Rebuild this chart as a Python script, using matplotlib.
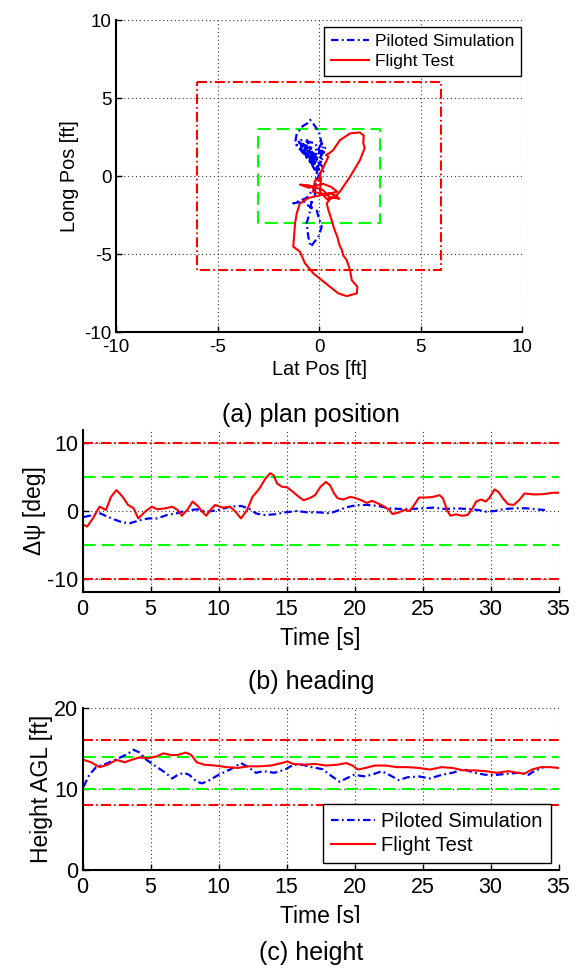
import numpy as np
import matplotlib
matplotlib.use('Agg')
import matplotlib.pyplot as plt
from matplotlib.patches import Rectangle

plt.rcParams['font.family'] = ['Liberation Sans', 'DejaVu Sans']
plt.rcParams['axes.unicode_minus'] = False

# plan position traces [ft]
sim_lat = [-0.2, -0.2, 0.0, 0.3, 0.1, -0.5, -1.0, -0.6, -0.2, -0.4, -1.1, -0.3, 0.0, 0.13, 0.25,
           -0.3, -0.8, -0.1, 0.2, -0.2, -0.9, -0.1, -0.7, 0.1, -0.8, -0.2, -0.6, 0.0, -0.5, 0.2,
           -0.9, -0.3, -1.18, -1.1, -0.8, -0.55, -0.44, -0.25, 0.0, 0.13, 0.3,
           0.0, -0.1, -0.2, -0.6, -1.27, -0.77, -0.36, -0.35, -0.45, -0.61, -0.53, -0.41, -0.03,
           0.13, -0.03, -0.15]
sim_long = [-1.3, -0.68, 0.1, 0.38, 0.7, 1.6, 2.2, 1.2, 0.4, 1.9, 2.0, 0.9, 1.8, 2.1, 1.5,
            1.4, 1.8, 0.5, 1.2, 2.1, 2.3, 0.6, 2.0, 0.9, 1.6, 1.1, 2.3, 0.4, 1.3, 1.6,
            1.9, 0.7, 2.1, 2.7, 3.2, 3.4, 3.6, 3.3, 2.8, 2.1, 1.8,
            1.0, 0.3, -0.68, -1.4, -1.75, -1.64, -2.07, -1.5, -2.3, -3.03, -3.89, -4.53, -3.89,
            -3.25, -2.61, -2.0]

ft_lat = [0.0, 0.1, 0.3, 0.46, 0.35, 0.55, 0.7, 1.03, 1.53, 2.0, 2.2, 2.18, 2.25, 2.02, 1.53,
          1.03, 0.8, 1.0, 0.5, 0.2, -0.5, -0.94, -0.5, 0.2, 0.6, 0.9, 0.3, -0.3, -0.2, 0.1,
          0.05, 0.4, 0.9, 0.5, -0.5, -0.94, -1.1, -1.18, -1.27, -0.94, -0.69, -0.28, 0.13, 0.54,
          0.95, 1.36, 1.86, 1.89, 1.61, 1.53, 1.36, 1.2, 1.12, 1.0, 0.9, 0.75, 0.62, 0.46, 0.38,
          0.6]
ft_long = [-0.3, 0.3, 0.8, 1.24, 1.35, 1.5, 1.67, 2.3, 2.73, 2.8, 2.6, 2.1, 1.8, 1.03, -0.04,
           -1.0, -1.33, -1.45, -1.35, -0.9, -0.6, -0.55, -0.75, -0.5, -0.7, -1.0, -1.2, -1.0,
           -0.3, -0.1, -1.0, -1.5, -1.3, -1.1, -1.4, -1.75, -2.4, -3.03, -4.53, -4.85, -5.6,
           -6.24, -6.67, -7.1, -7.52, -7.7, -7.52, -7.1, -6.67, -6.03, -5.38, -5.1, -4.74, -4.4,
           -3.89, -3.4, -2.82, -2.18, -1.75, -1.4]

# heading [deg]
t_hdg_sim = [0.08, 0.76, 1.3, 1.85, 2.4, 2.95, 3.5, 4.15, 4.85, 5.5, 6.2, 6.9, 7.6, 8.4, 9.2,
             10.0, 10.85, 11.65, 12.2, 12.75, 13.3, 14.1, 14.9, 15.75, 16.55, 17.4, 18.2, 18.75,
             19.4, 20.1, 20.9, 21.75, 22.55, 23.4, 24.2, 25.0, 25.8, 26.65, 27.45, 28.3, 29.1,
             29.65, 30.3, 31.0, 31.8, 32.65, 33.3, 34.0]
hdg_sim = [-0.9, -0.6, -0.35, -0.85, -1.3, -1.7, -1.8, -1.4, -1.1, -1.1, -0.6, -0.35, 0.05, 0.25,
           -0.1, 0.15, 0.64, 0.75, 0.4, -0.35, -0.6, -0.5, -0.2, 0.0, -0.2, -0.2, -0.35, 0.05,
           0.55, 0.85, 0.9, 0.75, 0.4, 0.3, 0.3, 0.4, 0.5, 0.3, 0.4, 0.3, 0.15, -0.1, 0.0, 0.3,
           0.4, 0.4, 0.25, 0.15]
t_hdg_ft = [0.08, 0.35, 0.76, 1.25, 1.72, 2.1, 2.5, 2.95, 3.35, 3.76, 4.1, 4.6, 5.1, 5.5, 6.1,
            6.6, 7.0, 7.3, 7.7, 8.1, 8.5, 8.8, 9.1, 9.4, 9.75, 10.3, 10.85, 11.25, 11.65, 12.1,
            12.5, 13.0, 13.45, 13.8, 14.05, 14.3, 14.65, 15.05, 15.5, 15.9, 16.25, 16.7, 17.1,
            17.5, 17.9, 18.2, 18.5, 18.75, 19.15, 19.7, 20.1, 20.5, 20.9, 21.3, 21.75, 22.15,
            22.55, 22.8, 23.2, 23.65, 24.05, 24.3, 24.75, 25.3, 25.8, 26.25, 26.5, 26.8, 27.05,
            27.45, 27.9, 28.3, 28.6, 28.95, 29.3, 29.65, 29.9, 30.3, 30.6, 30.9, 31.3, 31.7,
            32.1, 32.5, 33.2, 33.9, 34.55, 35.0]
hdg_ft = [-2.06, -2.3, -1.1, 0.64, 0.15, 2.1, 3.1, 2.1, 0.9, 0.4, -1.1, -0.1, 0.64, 0.25, 0.4,
          0.64, 0.15, -0.7, 0.15, 1.4, 0.7, -0.1, -0.7, 0.15, 0.9, 0.5, 0.64, -0.1, -1.1, 0.15,
          2.1, 3.3, 4.8, 5.6, 5.3, 4.1, 3.6, 3.5, 2.8, 2.1, 1.6, 1.9, 2.35, 3.6, 4.3, 3.8, 2.6,
          1.9, 1.7, 2.1, 1.9, 1.6, 1.2, 1.5, 1.1, 0.7, 0.15, -0.45, -0.25, 0.15, 0.0, 0.64, 2.0,
          2.0, 2.1, 2.35, 1.9, 0.15, -0.7, -0.5, -0.7, -0.6, 0.15, 1.4, 1.7, 1.4, 1.9, 3.2, 2.8,
          1.9, 1.0, 0.9, 1.6, 2.6, 2.45, 2.5, 2.7, 2.7]

# height AGL [ft]
t_hgt_sim = [0.08, 0.5, 1.0, 1.85, 2.65, 3.35, 3.75, 4.2, 4.7, 5.4, 6.1, 6.6, 7.0, 7.45, 7.85,
             8.4, 8.8, 9.35, 10.0, 10.85, 11.65, 12.2, 12.75, 13.3, 14.1, 14.9, 15.5, 16.15,
             16.85, 17.65, 18.35, 18.9, 19.4, 19.95, 20.8, 21.5, 22.0, 22.55, 23.25, 23.9, 24.75,
             25.55, 26.4, 27.2, 28.0, 28.85, 29.65, 30.45, 31.3, 32.1, 32.8, 33.2, 33.9]
hgt_sim = [10.3, 11.75, 12.7, 13.2, 13.8, 14.35, 14.85, 14.5, 13.6, 12.8, 12.0, 11.3, 11.75, 12.0,
           11.75, 10.9, 10.7, 11.1, 11.75, 12.4, 13.2, 12.7, 12.0, 12.2, 12.0, 12.4, 13.0, 13.0,
           12.7, 12.45, 11.55, 10.9, 11.3, 11.75, 11.55, 11.9, 12.2, 11.75, 11.1, 11.45, 11.55,
           11.3, 11.75, 12.0, 12.45, 12.0, 11.75, 11.75, 11.9, 12.0, 11.75, 12.2, 12.7]
t_hgt_ft = [0.08, 0.63, 1.25, 1.85, 2.5, 3.1, 3.6, 4.2, 4.85, 5.4, 5.95, 6.5, 7.0, 7.6, 8.0, 8.4,
            8.95, 9.75, 10.6, 11.4, 12.2, 13.0, 13.85, 14.65, 15.05, 15.5, 16.3, 17.1, 17.9,
            18.75, 19.4, 19.85, 20.25, 20.8, 21.5, 22.3, 23.1, 23.9, 24.75, 25.55, 26.4, 27.2,
            28.0, 28.85, 29.65, 30.45, 31.3, 32.0, 32.5, 33.05, 33.7, 34.4, 35.0]
hgt_ft = [13.6, 13.3, 12.7, 13.0, 13.6, 13.3, 13.6, 13.9, 13.8, 14.0, 14.4, 14.2, 14.2, 14.5,
          14.2, 13.3, 13.0, 12.9, 12.7, 12.6, 12.8, 12.8, 12.9, 13.2, 13.4, 13.1, 13.0, 13.1,
          12.9, 13.0, 13.2, 12.9, 12.4, 12.6, 12.9, 12.9, 12.7, 12.7, 12.6, 12.4, 12.7, 12.6,
          12.3, 12.3, 12.2, 12.0, 12.2, 12.0, 11.9, 12.4, 12.7, 12.7, 12.6]

# performance bounds
pos_desired, pos_adequate = 3, 6
hdg_desired, hdg_adequate = 5, 10
hgt_desired = (10, 14)
hgt_adequate = (8, 16)

red, green, blue = '#ff0000', '#00ff00', '#0000ff'
lim_dashdot = (4.8, 1.5, 0.8, 1.5)
sim_dashdot = (3.4, 1.5, 0.8, 1.5)
green_dash = (6, 3)


def style_axes(ax, ticksize):
    ax.grid(True, color='#333333', linestyle=(0, (1, 2.5)), linewidth=0.8)
    ax.set_axisbelow(True)
    for s in ['top', 'right']:
        ax.spines[s].set_visible(False)
    for s in ['left', 'bottom']:
        ax.spines[s].set_linewidth(1.5)
    ax.tick_params(direction='in', length=4, width=1, labelsize=ticksize)
    ax.tick_params(axis='x', pad=5)
    ax.tick_params(axis='y', pad=3)


def add_legend(ax, handles, anchor, loc, size):
    leg = ax.legend(handles, ['Piloted Simulation', 'Flight Test'], loc=loc,
                    bbox_to_anchor=anchor, fancybox=False, edgecolor='k', fontsize=size,
                    handlelength=2.2, borderpad=0.4, labelspacing=0.25, handletextpad=0.3,
                    borderaxespad=0, framealpha=1)
    leg.get_frame().set_linewidth(1.0)
    return leg


fig = plt.figure(figsize=(5.81, 9.68), dpi=100)

# (a) plan position
ax1 = fig.add_axes([0.1997, 0.657, 0.6988, 0.3223])
ax1.plot([-pos_adequate, pos_adequate, pos_adequate, -pos_adequate, -pos_adequate],
         [pos_adequate, pos_adequate, -pos_adequate, -pos_adequate, pos_adequate],
         color=red, linestyle='-.', dashes=lim_dashdot, linewidth=1.5)
ax1.plot([-pos_desired, pos_desired, pos_desired, -pos_desired, -pos_desired],
         [pos_desired, pos_desired, -pos_desired, -pos_desired, pos_desired],
         color=green, linestyle='--', dashes=green_dash, linewidth=1.5)
l1, = ax1.plot(sim_lat, sim_long, color=blue, linestyle='-.', dashes=sim_dashdot, linewidth=1.6)
l2, = ax1.plot(ft_lat, ft_long, color=red, linestyle='-', linewidth=1.5)
ax1.set_xlim(-10, 10)
ax1.set_ylim(-10, 10)
ax1.set_xticks([-10, -5, 0, 5, 10])
ax1.set_yticks([-10, -5, 0, 5, 10])
ax1.set_xlabel('Lat Pos [ft]', fontsize=14.3, labelpad=3)
ax1.set_ylabel('Long Pos [ft]', fontsize=14.3, labelpad=4)
style_axes(ax1, 13.5)
add_legend(ax1, [l1, l2], (0.9975, 0.9766), 'upper right', 12.5)
fig.text(311 / 581, 1 - 415 / 968, '(a) plan position', ha='center', va='center', fontsize=18)

# (b) heading
ax2 = fig.add_axes([0.142, 0.3884, 0.8193, 0.1674])
for v in [hdg_adequate, -hdg_adequate]:
    ax2.axhline(v, color=red, linestyle='-.', dashes=lim_dashdot, linewidth=1.5)
for v in [hdg_desired, -hdg_desired]:
    ax2.axhline(v, color=green, linestyle='--', dashes=green_dash, linewidth=1.5)
ax2.plot(t_hdg_sim, hdg_sim, color=blue, linestyle='-.', dashes=sim_dashdot, linewidth=1.6)
ax2.plot(t_hdg_ft, hdg_ft, color=red, linestyle='-', linewidth=1.5)
ax2.set_xlim(0, 35)
ax2.set_ylim(-12, 12)
ax2.set_xticks(np.arange(0, 36, 5))
ax2.set_yticks([-10, 0, 10])
ax2.set_xlabel('Time [s]', fontsize=16.5, labelpad=5)
ax2.set_ylabel('Δψ [deg]', fontsize=16.5, labelpad=1)
style_axes(ax2, 15.5)
fig.text(311 / 581, 1 - 682 / 968, '(b) heading', ha='center', va='center', fontsize=18)

# (c) height
ax3 = fig.add_axes([0.142, 0.1012, 0.8193, 0.1674])
for v in hgt_adequate:
    ax3.axhline(v, color=red, linestyle='-.', dashes=lim_dashdot, linewidth=1.5)
for v in hgt_desired:
    ax3.axhline(v, color=green, linestyle='--', dashes=green_dash, linewidth=1.5)
l3, = ax3.plot(t_hgt_sim, hgt_sim, color=blue, linestyle='-.', dashes=sim_dashdot, linewidth=1.6)
l4, = ax3.plot(t_hgt_ft, hgt_ft, color=red, linestyle='-', linewidth=1.5)
ax3.set_xlim(0, 35)
ax3.set_ylim(0, 20)
ax3.set_xticks(np.arange(0, 36, 5))
ax3.set_yticks([0, 10, 20])
ax3.set_xlabel('Time [s]', fontsize=16.5, labelpad=5)
ax3.set_ylabel('Height AGL [ft]', fontsize=16.5, labelpad=1)
style_axes(ax3, 15.5)
add_legend(ax3, [l3, l4], (0.984, 0.043), 'lower right', 14.5)

# caption panel overlaps the bottom of the time label
fig.patches.append(Rectangle((0, 0), 1, 1 - 923 / 968, transform=fig.transFigure,
                             facecolor='white', edgecolor='none', zorder=5))
fig.text(311 / 581, 1 - 953 / 968, '(c) height', ha='center', va='center', fontsize=18,
         zorder=6)

fig.savefig('out.png', dpi=100, facecolor='white')
